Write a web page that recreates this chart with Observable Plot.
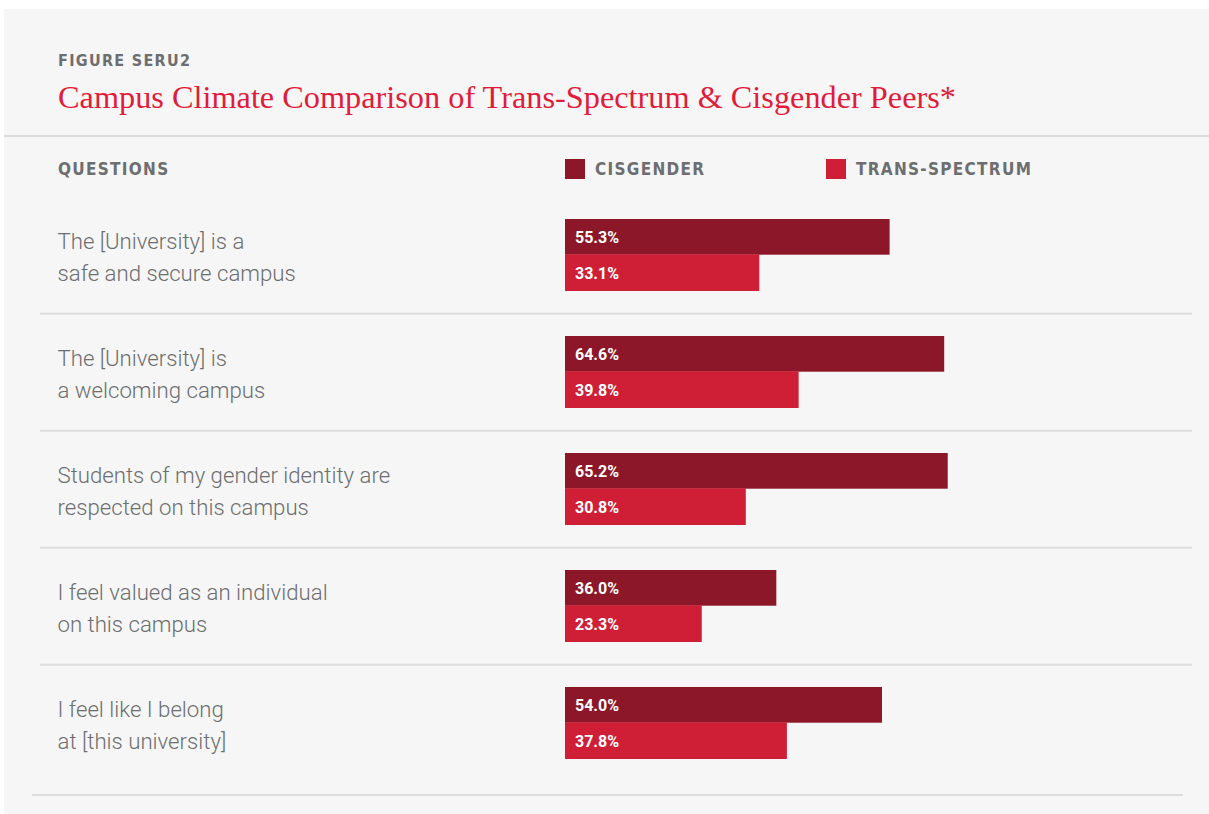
<!DOCTYPE html>
<html>
<head>
<meta charset="utf-8">
<script src="https://cdn.jsdelivr.net/npm/d3@7"></script>
<script src="https://cdn.jsdelivr.net/npm/@observablehq/plot@0.6"></script>
<style>
  html, body { margin: 0; padding: 0; background: #ffffff; }
  body { width: 1209px; height: 814px; position: relative; overflow: hidden; }
  #panel { position: absolute; left: 4px; top: 9px; width: 1205px; height: 805px; background: #f5f6f5; }
  .caps { position: absolute; font-family: "Liberation Sans Narrow", "DejaVu Sans Condensed", "Roboto", sans-serif; font-weight: 700; color: #6d6e70; letter-spacing: 1.3px; white-space: nowrap; line-height: 1; }
  #fig { left: 54px; top: 44px; font-size: 16px; }
  #title { position: absolute; left: 54px; top: 72px; font-family: "Liberation Serif", serif; font-size: 32.3px; color: #e01c3a; line-height: 1; white-space: nowrap; }
  #hr1 { position: absolute; left: 0; top: 126px; width: 1205px; height: 2px; background: #dcdedd; }
  #qhead { left: 54px; top: 152px; font-size: 17px; }
  .sw { position: absolute; top: 150px; width: 20px; height: 20px; }
  #hrb { position: absolute; left: 28px; top: 785px; width: 1151px; height: 2px; background: #dcdedd; }
  #chart { position: absolute; left: 0; top: 171px; }
</style>
</head>
<body>
<div id="panel">
  <div class="caps" id="fig">FIGURE SERU2</div>
  <div id="title">Campus Climate Comparison of Trans-Spectrum &amp; Cisgender Peers*</div>
  <div id="hr1"></div>
  <div class="caps" id="qhead">QUESTIONS</div>
  <div id="legend"></div>
  <div id="chart"></div>
  <div id="hrb"></div>
</div>
<script>
// ---- data ----
const questions = [
  "The [University] is a\nsafe and secure campus",
  "The [University] is\na welcoming campus",
  "Students of my gender identity are\nrespected on this campus",
  "I feel valued as an individual\non this campus",
  "I feel like I belong\nat [this university]"
];
const cisgender = [55.3, 64.6, 65.2, 36.0, 54.0];
const transSpectrum = [33.1, 39.8, 30.8, 23.3, 37.8];
const groups = ["CISGENDER", "TRANS-SPECTRUM"];
const groupColors = ["#8c1728", "#cf1f37"];

// ---- legend (HTML) ----
const legend = document.getElementById("legend");
const legendX = [561, 822];
groups.forEach((g, i) => {
  const sw = document.createElement("div");
  sw.className = "sw";
  sw.style.left = legendX[i] + "px";
  sw.style.background = groupColors[i];
  legend.appendChild(sw);
  const lab = document.createElement("div");
  lab.className = "caps";
  lab.style.left = (legendX[i] + 30) + "px";
  lab.style.top = "152px";
  lab.style.fontSize = "17px";
  lab.textContent = g;
  legend.appendChild(lab);
});

// ---- table ----
const cisRows = questions.map((q, i) => ({question: q, value: cisgender[i]}));
const transRows = questions.map((q, i) => ({question: q, value: transSpectrum[i]}));
const fmt = d => d3.format(".1f")(d) + "%";

const chart = Plot.plot({
  width: 1205,
  height: 612,
  marginLeft: 36,
  marginRight: 17,
  marginTop: 14,
  marginBottom: 10,
  style: {background: "transparent", overflow: "visible"},
  x: {domain: [0, 100], range: [561, 1148], axis: null},
  y: {domain: questions, padding: 0, axis: null},
  marks: [
    Plot.ruleY(questions.slice(0, questions.length - 1), {y: d => d, dy: 58.8, stroke: "#dcdedd", strokeWidth: 2}),
    Plot.barX(cisRows, {x: "value", y: "question", fill: groupColors[0], insetTop: 23, insetBottom: 58.3}),
    Plot.barX(transRows, {x: "value", y: "question", fill: groupColors[1], insetTop: 58.3, insetBottom: 22}),
    Plot.text(cisRows, {x: 0, y: "question", text: d => fmt(d.value), dx: 9.5, dy: -17, textAnchor: "start", fill: "#ffffff", fontSize: 16, fontWeight: 700, fontFamily: "Roboto, sans-serif"}),
    Plot.text(transRows, {x: 0, y: "question", text: d => fmt(d.value), dx: 9.5, dy: 18.5, textAnchor: "start", fill: "#ffffff", fontSize: 16, fontWeight: 700, fontFamily: "Roboto, sans-serif"}),
    Plot.text(questions, {y: d => d, text: d => d, frameAnchor: "left", dx: 17, textAnchor: "start", lineAnchor: "middle", lineHeight: 1.45, fill: "#6d6e70", fontSize: 22.2, fontWeight: 300, fontFamily: "Roboto, sans-serif"})
  ]
});
document.getElementById("chart").appendChild(chart);
</script>
</body>
</html>
